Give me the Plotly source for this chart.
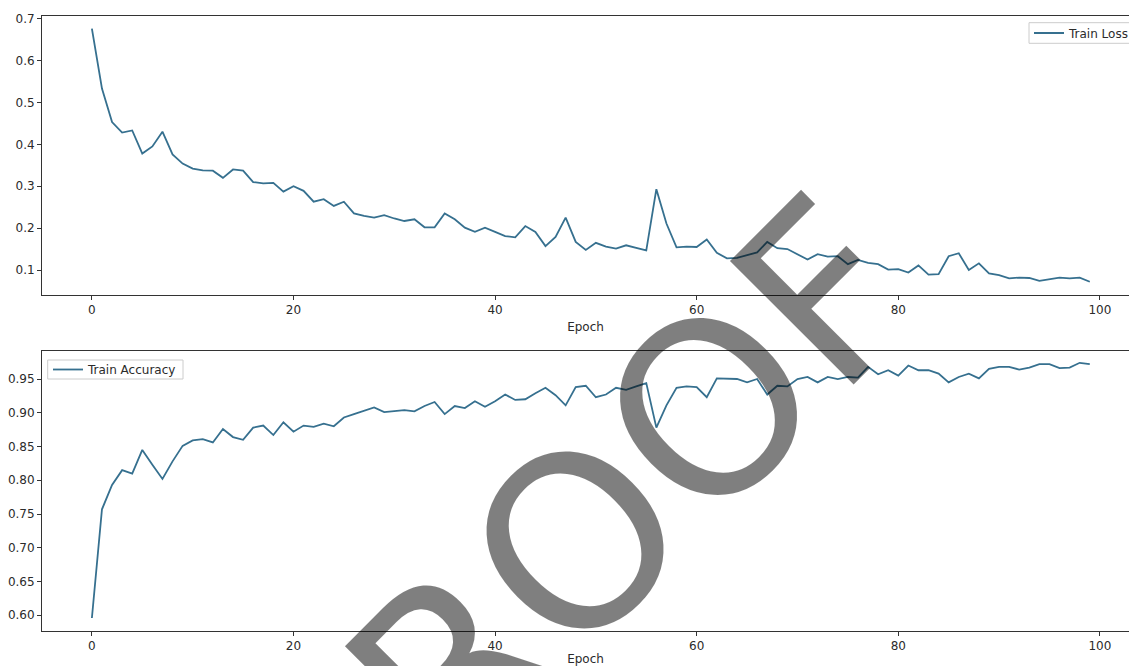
import plotly.graph_objects as go

epochs = list(range(100))

train_loss = [
    0.676, 0.533, 0.453, 0.428, 0.433, 0.378, 0.395, 0.430, 0.376, 0.354,
    0.342, 0.338, 0.337, 0.320, 0.340, 0.337, 0.310, 0.307, 0.308, 0.287,
    0.300, 0.289, 0.263, 0.269, 0.253, 0.263, 0.235, 0.229, 0.225, 0.231,
    0.223, 0.217, 0.221, 0.202, 0.202, 0.235, 0.221, 0.201, 0.191, 0.201,
    0.191, 0.181, 0.178, 0.205, 0.191, 0.157, 0.179, 0.225, 0.167, 0.148,
    0.165, 0.156, 0.151, 0.159, 0.153, 0.147, 0.293, 0.211, 0.154, 0.156,
    0.155, 0.173, 0.141, 0.128, 0.129, 0.136, 0.142, 0.167, 0.152, 0.150,
    0.137, 0.125, 0.138, 0.132, 0.133, 0.114, 0.124, 0.117, 0.114, 0.101,
    0.102, 0.094, 0.111, 0.089, 0.090, 0.133, 0.140, 0.100, 0.116, 0.092,
    0.088, 0.080, 0.082, 0.081, 0.074, 0.078, 0.082, 0.080, 0.082, 0.072,
]

train_acc = [
    0.596, 0.757, 0.793, 0.815, 0.810, 0.845, 0.823, 0.802, 0.828, 0.851,
    0.859, 0.861, 0.856, 0.876, 0.864, 0.860, 0.878, 0.881, 0.867, 0.886,
    0.872, 0.881, 0.879, 0.884, 0.880, 0.893, 0.898, 0.903, 0.908, 0.901,
    0.902, 0.904, 0.902, 0.910, 0.916, 0.898, 0.910, 0.907, 0.917, 0.909,
    0.917, 0.927, 0.919, 0.920, 0.929, 0.937, 0.926, 0.911, 0.938, 0.940,
    0.923, 0.927, 0.937, 0.934, 0.939, 0.944, 0.878, 0.911, 0.937, 0.939,
    0.938, 0.923, 0.951, 0.951, 0.950, 0.945, 0.950, 0.927, 0.940, 0.939,
    0.950, 0.953, 0.945, 0.953, 0.950, 0.953, 0.952, 0.968, 0.957, 0.963,
    0.955, 0.970, 0.963, 0.963, 0.958, 0.945, 0.953, 0.958, 0.951, 0.965,
    0.968, 0.968, 0.964, 0.967, 0.972, 0.972, 0.966, 0.967, 0.974, 0.972,
]

x_ticks = [0, 20, 40, 60, 80, 100]
loss_ticks = [0.1, 0.2, 0.3, 0.4, 0.5, 0.6, 0.7]
acc_ticks = [0.60, 0.65, 0.70, 0.75, 0.80, 0.85, 0.90, 0.95]
watermark = "PROOF"

LINE = "#36708f"
TXT = "#2b2b2b"
FONT = "DejaVu Sans"

fig = go.Figure()
fig.add_trace(go.Scatter(x=epochs, y=train_loss, mode="lines", name="Train Loss",
                         line=dict(color=LINE, width=1.8), xaxis="x", yaxis="y",
                         legend="legend"))
fig.add_trace(go.Scatter(x=epochs, y=train_acc, mode="lines", name="Train Accuracy",
                         line=dict(color=LINE, width=1.8), xaxis="x2", yaxis="y2",
                         legend="legend2"))

W, H = 1129, 666
ml, mr, mt, mb = 42, 0, 16, 35
pw, ph = W - ml - mr, H - mt - mb


def py(p):  # screen pixel -> paper y
    return (H - mb - p) / ph


def px(p):  # screen pixel -> paper x
    return (p - ml) / pw


axis_common = dict(showgrid=False, zeroline=False, showline=True, linecolor="#333333",
                   linewidth=1, ticks="outside", ticklen=4, tickcolor="#333333",
                   tickfont=dict(family=FONT, size=12, color=TXT))

xr = [-4.95, 102.89]
fig.update_layout(
    width=W, height=H,
    margin=dict(l=ml, r=mr, t=mt, b=mb, autoexpand=False),
    paper_bgcolor="white", plot_bgcolor="white",
    font=dict(family=FONT, size=12, color=TXT),
    xaxis=dict(domain=[0, 1], range=xr, tickvals=x_ticks, anchor="y", mirror=True,
               title=dict(text="Epoch", standoff=6, font=dict(family=FONT, size=12, color=TXT)),
               **axis_common),
    yaxis=dict(domain=[py(295), 1], range=[0.0404, 0.7062], tickvals=loss_ticks,
               tickformat=".1f", anchor="x", **axis_common),
    xaxis2=dict(domain=[0, 1], range=xr, tickvals=x_ticks, anchor="y2", mirror=True,
                title=dict(text="Epoch", standoff=11, font=dict(family=FONT, size=12, color=TXT)),
                **axis_common),
    yaxis2=dict(domain=[0, py(351)], range=[0.5767, 0.9915], tickvals=acc_ticks,
                tickformat=".2f", anchor="x2", **axis_common),
    legend=dict(x=px(1029), y=py(33), xanchor="left", yanchor="middle",
                bgcolor="rgba(0,0,0,0)", borderwidth=0,
                font=dict(family=FONT, size=12, color=TXT)),
    legend2=dict(x=px(48), y=py(369.5), xanchor="left", yanchor="middle",
                 bgcolor="rgba(0,0,0,0)", borderwidth=0,
                 font=dict(family=FONT, size=12, color=TXT)),
    showlegend=True,
)

# legend frames (matplotlib-style, compact)
for (x0, y0, x1, y1) in [(1029, 22.7, 1145, 43.3), (47.7, 360, 183, 379)]:
    fig.add_shape(type="rect", xref="paper", yref="paper",
                  x0=px(x0), x1=px(x1), y0=py(y1), y1=py(y0),
                  line=dict(color="#cccccc", width=1),
                  fillcolor="rgba(255,255,255,0.8)", layer="above")

fig.add_annotation(text=watermark, xref="paper", yref="paper",
                   x=px(583), y=py(538), xanchor="center", yanchor="middle",
                   textangle=-45, showarrow=False,
                   font=dict(family=FONT, size=240, color="rgba(0,0,0,0.5)"))

fig.write_html(
    "out.html",
    config={"displayModeBar": False},
    post_script="document.body.style.margin='0px';"
                "document.documentElement.style.overflow='hidden';"
                "document.body.style.overflow='hidden';",
)
